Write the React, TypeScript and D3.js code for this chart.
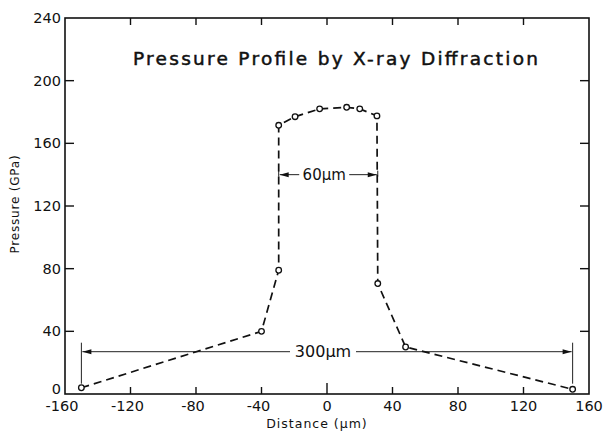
import React, { useEffect, useRef } from "react";
import * as d3 from "d3";

// distance (um) and pressure (GPa)
const distance = [-150, -40, -29.5, -29.5, -19.5, -4.5, 12, 20, 30.5, 31, 48, 150];
const pressure = [4, 40, 79, 171.5, 177, 182, 183, 182, 177.5, 70.5, 30, 3];

const xTicks = [-160, -120, -80, -40, 0, 40, 80, 120, 160];
const yTicks = [0, 40, 80, 120, 160, 200, 240];

// width annotations: [from, to, at pressure]
const span300 = [-150, 150, 27];
const span60 = [-29.5, 31, 140];

const App = () => {
  const ref = useRef<SVGSVGElement>(null);

  useEffect(() => {
    const W = 608, H = 433;
    const margin = { top: 18, right: 19, bottom: 39, left: 65 };
    const width = W - margin.left - margin.right;
    const height = H - margin.top - margin.bottom;
    const font = "'DejaVu Sans', sans-serif";

    const svg = d3.select(ref.current);
    svg.selectAll("*").remove();
    svg.attr("width", W).attr("height", H);

    const g = svg.append("g")
      .attr("transform", `translate(${margin.left}, ${margin.top})`);

    const x = d3.scaleLinear().domain([-160, 160]).range([0, width]);
    const y = d3.scaleLinear().domain([0, 240]).range([height, 0]);

    // frame
    g.append("rect")
      .attr("width", width)
      .attr("height", height)
      .attr("fill", "none")
      .attr("stroke", "#111")
      .attr("stroke-width", 1.6);

    // inward ticks on all four sides
    const tl = 7;
    xTicks.slice(1, -1).forEach(t => {
      const len = t === 0 ? 11 : tl;
      g.append("line").attr("x1", x(t)).attr("x2", x(t))
        .attr("y1", height).attr("y2", height - len)
        .attr("stroke", "#111").attr("stroke-width", 1.4);
      g.append("line").attr("x1", x(t)).attr("x2", x(t))
        .attr("y1", 0).attr("y2", tl)
        .attr("stroke", "#111").attr("stroke-width", 1.4);
    });
    yTicks.slice(1, -1).forEach(t => {
      g.append("line").attr("x1", 0).attr("x2", 9)
        .attr("y1", y(t)).attr("y2", y(t))
        .attr("stroke", "#111").attr("stroke-width", 1.4);
      g.append("line").attr("x1", width).attr("x2", width - 9)
        .attr("y1", y(t)).attr("y2", y(t))
        .attr("stroke", "#111").attr("stroke-width", 1.4);
    });

    // tick labels
    g.selectAll(".xl")
      .data(xTicks)
      .enter()
      .append("text")
      .attr("x", d => x(d) - (d < 0 ? 3 : 0))
      .attr("y", height + 17)
      .attr("text-anchor", "middle")
      .attr("font-family", font)
      .attr("font-size", 14.5)
      .attr("fill", "#111")
      .text(d => String(d));

    g.selectAll(".yl")
      .data(yTicks)
      .enter()
      .append("text")
      .attr("x", -4)
      .attr("y", d => y(d) + (d === 0 ? 0 : 5))
      .attr("text-anchor", "end")
      .attr("font-family", font)
      .attr("font-size", 14.5)
      .attr("fill", "#111")
      .text(d => String(d));

    // axis titles
    svg.append("text")
      .attr("x", 317)
      .attr("y", 428)
      .attr("text-anchor", "middle")
      .attr("font-family", font)
      .attr("font-size", 12.5)
      .attr("letter-spacing", 1)
      .attr("fill", "#111")
      .text("Distance (\u03bcm)");

    svg.append("text")
      .attr("transform", "translate(19, 204) rotate(-90)")
      .attr("text-anchor", "middle")
      .attr("font-family", font)
      .attr("font-size", 12)
      .attr("letter-spacing", 0.8)
      .attr("fill", "#111")
      .text("Pressure (GPa)");

    // title
    svg.append("text")
      .attr("x", 133)
      .attr("y", 65)
      .attr("font-family", font)
      .attr("font-size", 18.5)
      .attr("textLength", 405)
      .attr("lengthAdjust", "spacing")
      .attr("fill", "#111")
      .attr("stroke", "#111")
      .attr("stroke-width", 0.5)
      .text("Pressure Profile by X-ray Diffraction");

    // width annotations
    const annotate = (span: number[], label: string, size: number, tickUp: number, tickDown: number, gap: number) => {
      const [a, b, p] = span;
      const yy = y(p);
      const mid = (x(a) + x(b)) / 2 - 4;
      [a, b].forEach(v => {
        g.append("line").attr("x1", x(v)).attr("x2", x(v))
          .attr("y1", yy - tickUp).attr("y2", yy + tickDown)
          .attr("stroke", "#222").attr("stroke-width", 1);
      });
      const segs = [[mid - gap, x(a) + 1], [mid + gap, x(b) - 1]];
      segs.forEach(([from, to]) => {
        g.append("line").attr("x1", from).attr("x2", to)
          .attr("y1", yy).attr("y2", yy)
          .attr("stroke", "#222").attr("stroke-width", 1);
        const dir = to > from ? 1 : -1;
        g.append("path")
          .attr("d", `M${to},${yy} L${to - dir * 9},${yy - 2.5} L${to - dir * 9},${yy + 2.5} Z`)
          .attr("fill", "#111");
      });
      g.append("text")
        .attr("x", mid)
        .attr("y", yy + size * 0.36)
        .attr("text-anchor", "middle")
        .attr("font-family", font)
        .attr("font-size", size)
        .attr("fill", "#111")
        .text(label);
    };
    annotate(span300, "300\u03bcm", 16, 9, 32, 33);
    annotate(span60, "60\u03bcm", 15, 4, 2, 25);

    // dashed profile line
    const pts = distance.map((d, i) => [d, pressure[i]] as [number, number]);
    const line = d3.line<[number, number]>()
      .x(d => x(d[0]))
      .y(d => y(d[1]));

    g.append("path")
      .datum(pts)
      .attr("d", line)
      .attr("fill", "none")
      .attr("stroke", "#111")
      .attr("stroke-width", 1.7)
      .attr("stroke-dasharray", "8,5");

    g.selectAll(".pt")
      .data(pts)
      .enter()
      .append("circle")
      .attr("cx", d => x(d[0]))
      .attr("cy", d => y(d[1]))
      .attr("r", 2.8)
      .attr("fill", "white")
      .attr("stroke", "#111")
      .attr("stroke-width", 1.3);
  }, []);

  return <svg ref={ref} style={{ position: "absolute", left: 0, top: 0 }}></svg>;
};

export default App;
